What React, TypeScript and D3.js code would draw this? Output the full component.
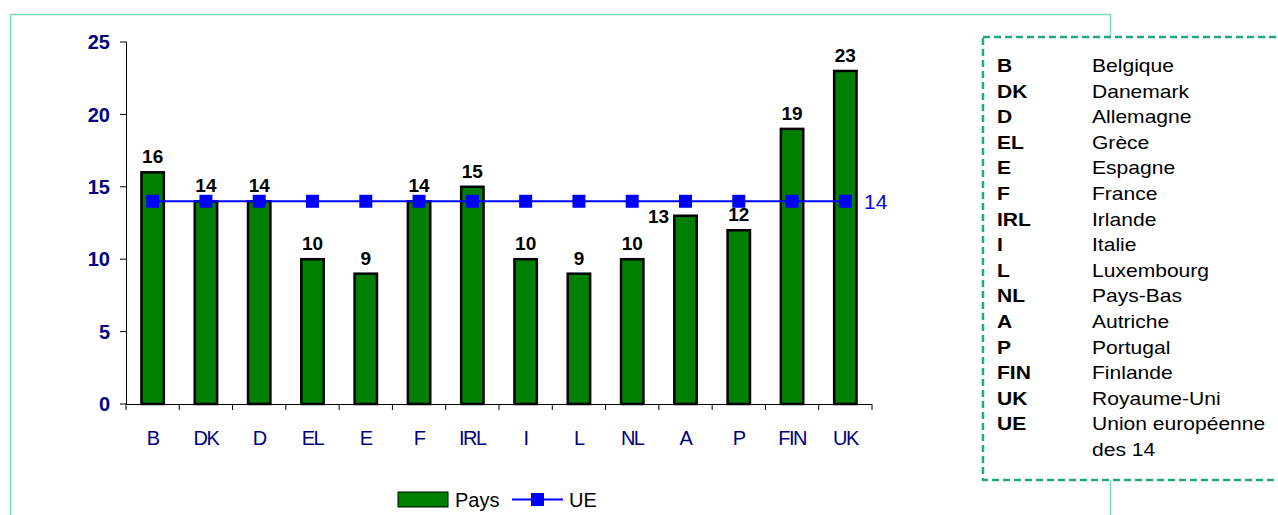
import React from "react";
import * as d3 from "d3";

const codes = ["B", "DK", "D", "EL", "E", "F", "IRL", "I", "L", "NL", "A", "P", "FIN", "UK"];
const paysValues = [16, 14, 14, 10, 9, 14, 15, 10, 9, 10, 13, 12, 19, 23];
const ueValue = 14;
const yTicks = [0, 5, 10, 15, 20, 25];
const legendCodes = ["B", "DK", "D", "EL", "E", "F", "IRL", "I", "L", "NL", "A", "P", "FIN", "UK", "UE"];
const legendNames = [
  "Belgique", "Danemark", "Allemagne", "Grèce", "Espagne", "France", "Irlande",
  "Italie", "Luxembourg", "Pays-Bas", "Autriche", "Portugal", "Finlande", "Royaume-Uni",
  "Union européenne",
];

const W = 1278;
const H = 515;
const FONT = "'Liberation Sans', Arial, sans-serif";
const NAVY = "#000080";

// stretched text, the legend box text in the original is a bit wide
function WideText({ x, y, children, bold }: { x: number; y: number; children: any; bold?: boolean }) {
  return (
    <g transform={`translate(${x},${y}) scale(1.17,1)`}>
      <text fontSize={18} fontWeight={bold ? "bold" : "normal"} fill="#000">
        {children}
      </text>
    </g>
  );
}

export default function App() {
  const x = d3.scaleBand<string>().domain(codes).range([126, 872]).paddingInner(0.58).paddingOuter(0.29);
  const y = d3.scaleLinear().domain([0, 25]).range([404, 42]);
  const cx = (c: string) => (x(c) as number) + x.bandwidth() / 2;
  const step = x.step();
  const x0 = 126;
  const lineY = y(ueValue);

  const line = d3
    .line<string>()
    .x((c) => cx(c))
    .y(() => lineY);

  // value label goes above the bar, unless it would sit on the UE line: then to the left
  const labelPos = (c: string, v: number) => {
    const base = y(v) - 9;
    if (base > lineY - 3 && base - 13 < lineY + 6) return { x: cx(c) - 27, y: y(v) + 7 };
    return { x: cx(c), y: base };
  };

  return (
    <svg width={W} height={H} style={{ position: "absolute", left: 0, top: 0, background: "#fff" }} fontFamily={FONT}>
      {/* outer frame */}
      <rect x={10.5} y={14.5} width={1100} height={620} fill="none" stroke="#7fd8c0" strokeWidth={1.5} />

      {/* y axis */}
      <line x1={126.5} x2={126.5} y1={y(25)} y2={y(0)} stroke="#000" strokeWidth={1} />
      {yTicks.map((t) => (
        <g key={t}>
          <line x1={120} x2={126.5} y1={y(t)} y2={y(t)} stroke="#000" />
          <text x={110} y={y(t)} dy="0.36em" textAnchor="end" fontSize={20} fontWeight="bold" fill={NAVY}>
            {t}
          </text>
        </g>
      ))}

      {/* x axis */}
      <line x1={x0} x2={x0 + step * codes.length} y1={y(0) + 0.5} y2={y(0) + 0.5} stroke="#000" />
      {d3.range(codes.length + 1).map((i) => (
        <line key={i} x1={x0 + i * step} x2={x0 + i * step} y1={y(0)} y2={y(0) + 6} stroke="#000" />
      ))}
      {codes.map((c) => (
        <text key={c} x={cx(c)} y={445} textAnchor="middle" fontSize={20} fill={NAVY} letterSpacing={-1.5}>
          {c}
        </text>
      ))}

      {/* bars */}
      {codes.map((c, i) => {
        const lp = labelPos(c, paysValues[i]);
        return (
          <g key={c}>
            <rect
              x={x(c)}
              y={y(paysValues[i])}
              width={x.bandwidth()}
              height={y(0) - y(paysValues[i])}
              fill="#008000"
              stroke="#000"
              strokeWidth={2.5}
            />
            <text x={lp.x} y={lp.y} textAnchor="middle" fontSize={19} fontWeight="bold" fill="#000">
              {paysValues[i]}
            </text>
          </g>
        );
      })}

      {/* UE line */}
      <path d={line(codes) || ""} fill="none" stroke="#0000ff" strokeWidth={2} />
      {codes.map((c) => (
        <rect key={c} x={cx(c) - 6.5} y={lineY - 6.5} width={13} height={13} fill="#0000ff" />
      ))}
      <text x={864} y={lineY} dy="0.36em" fontSize={21} fill="#0000ff">
        {ueValue}
      </text>

      {/* bottom legend */}
      <rect x={398} y={492} width={50} height={15} fill="#008000" stroke="#000" strokeWidth={1} />
      <text x={455} y={507} fontSize={20} fill="#000">Pays</text>
      <line x1={512} x2={563} y1={499.5} y2={499.5} stroke="#0000ff" strokeWidth={2} />
      <rect x={531} y={493} width={13} height={13} fill="#0000ff" />
      <text x={569} y={507} fontSize={20} fill="#000">UE</text>

      {/* code legend box */}
      <rect x={983} y={37} width={320} height={443} fill="#fff" stroke="#20a882" strokeWidth={2.5} strokeDasharray="7,4" />
      {legendCodes.map((c, i) => (
        <g key={c}>
          <WideText x={997} y={72 + i * 25.6} bold>{c}</WideText>
          <WideText x={1092} y={72 + i * 25.6}>{legendNames[i]}</WideText>
        </g>
      ))}
      <WideText x={1092} y={72 + legendCodes.length * 25.6}>des 14</WideText>
    </svg>
  );
}
